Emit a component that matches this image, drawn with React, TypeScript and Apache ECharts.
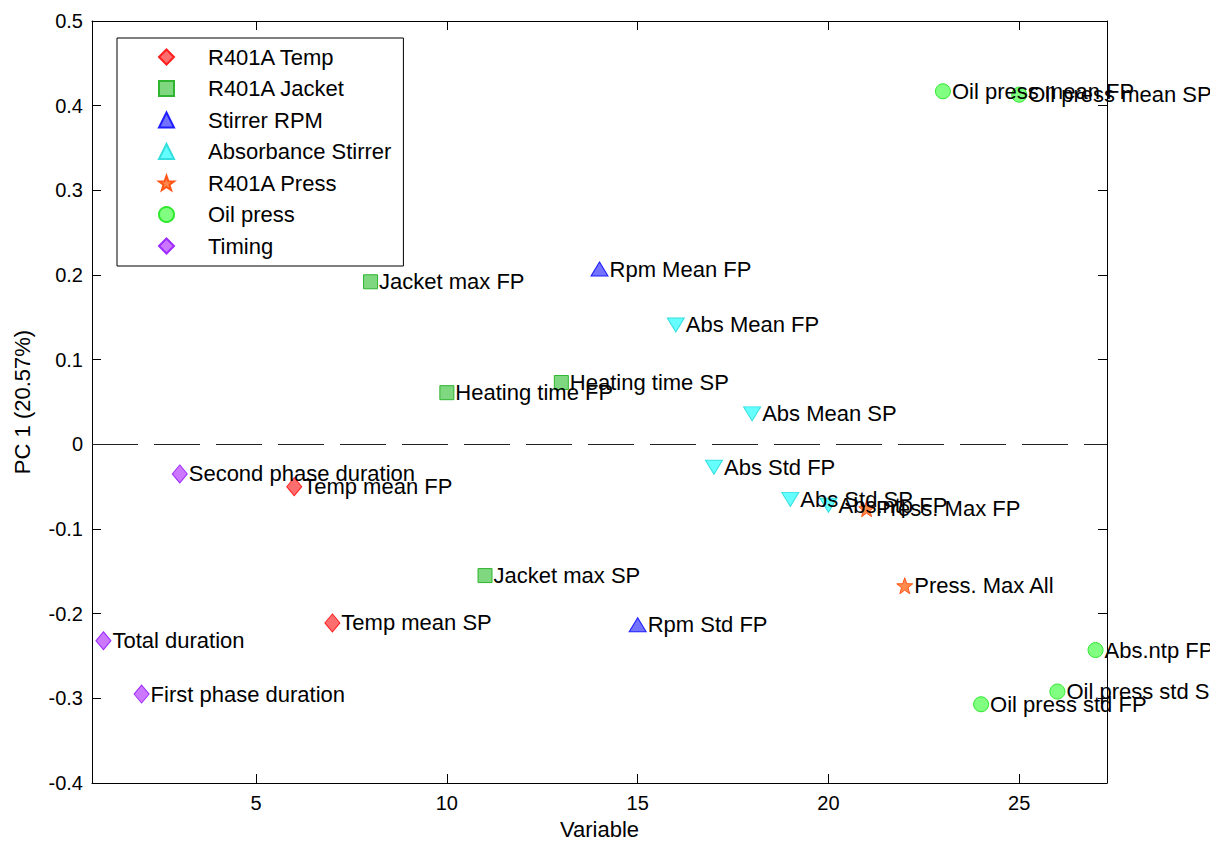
import React, { useEffect, useRef } from "react";
import * as echarts from "echarts";

// Loadings of each process variable on the first principal component
const tempX = [6, 7];
const tempY = [-0.050, -0.211];
const tempNames = ["Temp mean FP", "Temp mean SP"];

const jacketX = [8, 10, 11, 13];
const jacketY = [0.192, 0.061, -0.155, 0.073];
const jacketNames = ["Jacket max FP", "Heating time FP", "Jacket max SP", "Heating time SP"];

const rpmX = [14, 15];
const rpmY = [0.207, -0.213];
const rpmNames = ["Rpm Mean FP", "Rpm Std FP"];

const absX = [16, 17, 18, 19, 20];
const absY = [0.141, -0.027, 0.036, -0.065, -0.072];
const absNames = ["Abs Mean FP", "Abs Std FP", "Abs Mean SP", "Abs Std SP", "Abs.ntp FP"];

const pressX = [21, 22];
const pressY = [-0.076, -0.167];
const pressNames = ["Press. Max FP", "Press. Max All"];

const oilX = [23, 24, 25, 26, 27];
const oilY = [0.417, -0.307, 0.413, -0.292, -0.243];
const oilNames = ["Oil press mean FP", "Oil press std FP", "Oil press mean SP", "Oil press std SP", "Abs.ntp FP"];

const timingX = [1, 2, 3];
const timingY = [-0.232, -0.295, -0.035];
const timingNames = ["Total duration", "First phase duration", "Second phase duration"];

const xTicks = [5, 10, 15, 20, 25];
const yTicks = [-0.4, -0.3, -0.2, -0.1, 0, 0.1, 0.2, 0.3, 0.4, 0.5];

const FONT = "'Liberation Sans', Arial, Helvetica, sans-serif";

// Five-pointed star outline used for the pressure markers
function starPath(): string {
  const pts: string[] = [];
  for (let i = 0; i < 10; i++) {
    const r = i % 2 === 0 ? 50 : 20;
    const a = -Math.PI / 2 + (i * Math.PI) / 5;
    pts.push(`${(50 + r * Math.cos(a)).toFixed(2)} ${(50 + r * Math.sin(a)).toFixed(2)}`);
  }
  return "path://M" + pts.join(" L") + " Z";
}

function toPoints(xs: number[], ys: number[], names: string[]) {
  return xs.map((x, i) => ({ value: [x, ys[i]], name: names[i] }));
}

export default function App() {
  const ref = useRef<HTMLDivElement>(null);

  useEffect(() => {
    if (!ref.current) return;
    const chart = echarts.init(ref.current, null, { renderer: "svg" });

    const label = {
      show: true,
      position: "right" as const,
      distance: 1,
      formatter: (p: any) => p.name,
      color: "#000",
      fontSize: 22,
      fontFamily: FONT,
    };

    const group = (
      name: string,
      xs: number[],
      ys: number[],
      names: string[],
      symbol: string,
      size: number | number[],
      fill: string,
      edge: string,
      rotate = 0
    ) => ({
      type: "scatter",
      name,
      symbol,
      symbolSize: size,
      symbolRotate: rotate,
      data: toPoints(xs, ys, names),
      itemStyle: { color: fill, borderColor: edge, borderWidth: 1, opacity: 1 },
      label,
      clip: false,
      xAxisIndex: 0,
      yAxisIndex: 0,
    });

    const axisLineStyle = { color: "#000", width: 1 };

    const option: any = {
      animation: false,
      backgroundColor: "#fff",
      textStyle: { fontFamily: FONT },
      grid: { left: 92, top: 21, width: 1015, height: 762, show: false, outerBoundsMode: "none", containLabel: false },
      legend: {
        orient: "vertical",
        left: 117,
        top: 38,
        backgroundColor: "#fff",
        borderColor: "#000",
        borderWidth: 1,
        padding: [8, 12, 9, 41],
        itemWidth: 15,
        itemHeight: 15,
        itemGap: 9.5,
        textStyle: { fontSize: 22, color: "#000", fontFamily: FONT, lineHeight: 22, padding: [0, 0, 0, 29] },
        data: ["R401A Temp", "R401A Jacket", "Stirrer RPM", "Absorbance Stirrer", "R401A Press", "Oil press", "Timing"],
      },
      xAxis: [
        {
          type: "value",
          min: 0.7,
          max: 27.3,
          position: "bottom",
          name: "Variable",
          nameLocation: "middle",
          nameGap: 35,
          nameTextStyle: { fontSize: 22, color: "#000", fontFamily: FONT },
          axisLine: { show: true, onZero: false, lineStyle: axisLineStyle },
          axisTick: { show: true, inside: true, length: 9, customValues: xTicks, lineStyle: axisLineStyle },
          axisLabel: { show: true, customValues: xTicks, margin: 10, fontSize: 20, color: "#000", fontFamily: FONT },
          splitLine: { show: false },
        },
        {
          type: "value",
          min: 0.7,
          max: 27.3,
          position: "top",
          axisLine: { show: true, onZero: false, lineStyle: axisLineStyle },
          axisTick: { show: true, inside: true, length: 9, customValues: xTicks, lineStyle: axisLineStyle },
          axisLabel: { show: false },
          splitLine: { show: false },
        },
      ],
      yAxis: [
        {
          type: "value",
          min: -0.4,
          max: 0.5,
          position: "left",
          name: "PC 1 (20.57%)",
          nameLocation: "middle",
          nameGap: 59,
          nameTextStyle: { fontSize: 22, color: "#000", fontFamily: FONT },
          axisLine: { show: true, onZero: false, lineStyle: axisLineStyle },
          axisTick: { show: true, inside: true, length: 9, customValues: yTicks, lineStyle: axisLineStyle },
          axisLabel: {
            show: true,
            customValues: yTicks,
            margin: 9,
            fontSize: 20,
            color: "#000",
            fontFamily: FONT,
            formatter: (v: number) => String(Number(v.toFixed(1))),
          },
          splitLine: { show: false },
        },
        {
          type: "value",
          min: -0.4,
          max: 0.5,
          position: "right",
          axisLine: { show: true, onZero: false, lineStyle: axisLineStyle },
          axisTick: { show: true, inside: true, length: 9, customValues: yTicks, lineStyle: axisLineStyle },
          axisLabel: { show: false },
          splitLine: { show: false },
        },
      ],
      series: [
        {
          ...group("R401A Temp", tempX, tempY, tempNames, "diamond", [15, 18], "#ff6e6e", "#ff1f1f"),
          markLine: {
            silent: true,
            symbol: "none",
            label: { show: false },
            lineStyle: { color: "#222", width: 1, type: [46, 16] },
            data: [{ yAxis: 0 }],
          },
        },
        group("R401A Jacket", jacketX, jacketY, jacketNames, "rect", 14, "#7fd87f", "#2fb52f"),
        group("Stirrer RPM", rpmX, rpmY, rpmNames, "triangle", [17, 14], "#7373ff", "#1f1fff"),
        group("Absorbance Stirrer", absX, absY, absNames, "triangle", [17, 14], "#66ffff", "#33dede", 180),
        group("R401A Press", pressX, pressY, pressNames, starPath(), 16, "#ff8a4d", "#ff5517"),
        group("Oil press", oilX, oilY, oilNames, "circle", 15, "#80ff80", "#2ee82e"),
        group("Timing", timingX, timingY, timingNames, "diamond", [15, 18], "#cc77ff", "#9d2bff"),
      ],
    };

    chart.setOption(option);
    return () => chart.dispose();
  }, []);

  return (
    <div
      ref={ref}
      style={{ position: "absolute", left: 0, top: 0, width: 1210, height: 844, overflow: "hidden", background: "#fff" }}
    />
  );
}
